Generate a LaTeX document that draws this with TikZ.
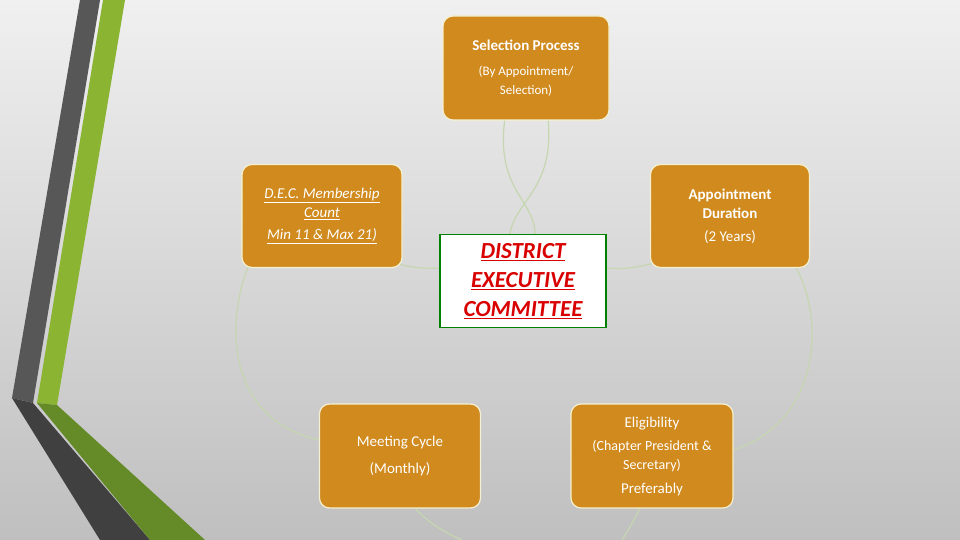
\documentclass[tikz,border=0pt]{standalone}
\usepackage{fontspec}
\setmainfont{Carlito}
\definecolor{boxc}{HTML}{D08A1E}
\definecolor{linkc}{HTML}{C5D6B0}
\definecolor{boxedge}{HTML}{F5F0D0}
\definecolor{lgreen}{HTML}{8AB432}
\definecolor{dgreen}{HTML}{658A28}
\begin{document}
\begin{tikzpicture}[x=1pt,y=-1pt,
  box/.style={draw=boxedge,line width=1.2pt,fill=boxc,rounded corners=10pt,align=center,text=white,font=\fontsize{15}{19}\selectfont,inner sep=2pt},
  link/.style={draw=linkc,line width=1.2pt}]
\useasboundingbox (0,0) rectangle (960,540);
\shade[top color=white!88!gray, bottom color=gray!50] (0,0) rectangle (960,540);
% left bands
\fill[black!66] (80,0) -- (100,0) -- (33,403) -- (12,398) -- cycle;
\fill[black!75] (12,398) -- (33,403) -- (150,540) -- (100,540) -- cycle;
\fill[lgreen] (103,0) -- (125,0) -- (57,405) -- (37,403) -- cycle;
\fill[dgreen] (37,403) -- (57,405) -- (205,540) -- (150,540) -- cycle;
% connectors
\coordinate (s1) at (505,118);
\coordinate (s2) at (548,118);
\coordinate (d1) at (362,252);
\coordinate (a1) at (775,240);
\coordinate (d2) at (250,262);
\coordinate (m1) at (415,508);
\coordinate (m2) at (462,540);
\coordinate (e1) at (640,508);
\coordinate (e2) at (622,540);
\coordinate (c1) at (510,234);
\coordinate (c2) at (535,234);
\draw[link] (s1) .. controls (495,190) and (535,200) .. (c2);
\draw[link] (s2) .. controls (555,190) and (515,200) .. (c1);
\draw[link] (d1) .. controls (390,262) and (410,270) .. (440,268);
\draw[link] (607,268) .. controls (630,270) and (645,265) .. (660,262);
\draw[link] (d2) .. controls (225,320) and (225,420) .. (320,440);
\draw[link] (a1) .. controls (830,290) and (830,420) .. (733,450);
\draw[link] (m1) .. controls (430,525) and (450,535) .. (m2);
\draw[link] (e1) .. controls (632,525) and (625,535) .. (e2);
% nodes
\node[box,minimum width=166,minimum height=104] (sel) at (526,68) {\textbf{Selection Process}\\[6pt]\fontsize{13}{16}\selectfont (By Appointment/\\\fontsize{13}{16}\selectfont Selection)};
\node[box,minimum width=160,minimum height=103] (dec) at (322,216) {\textit{\underline{D.E.C. Membership}}\\\textit{\underline{Count}}\\[3pt]\textit{\underline{Min 11 \& Max 21)}}};
\node[box,minimum width=159,minimum height=103] (app) at (730,216) {\textbf{Appointment}\\\textbf{Duration}\\[4pt](2 Years)};
\node[box,minimum width=161,minimum height=104] (meet) at (400,456) {Meeting Cycle\\[8pt](Monthly)};
\node[box,minimum width=162,minimum height=104] (elig) at (652,456) {Eligibility\\[4pt]\fontsize{14}{16}\selectfont(Chapter President \&\\\fontsize{14}{16}\selectfont Secretary)\\[5pt]Preferably};
\node[draw=green!50!black,line width=1.2pt,fill=white,minimum width=166,minimum height=93,align=center,text=red!85!black,font=\fontsize{23}{29}\selectfont\itshape\bfseries] (dtc) at (523,281) {\underline{DISTRICT}\\\underline{EXECUTIVE}\\\underline{COMMITTEE}};
\end{tikzpicture}
\end{document}
